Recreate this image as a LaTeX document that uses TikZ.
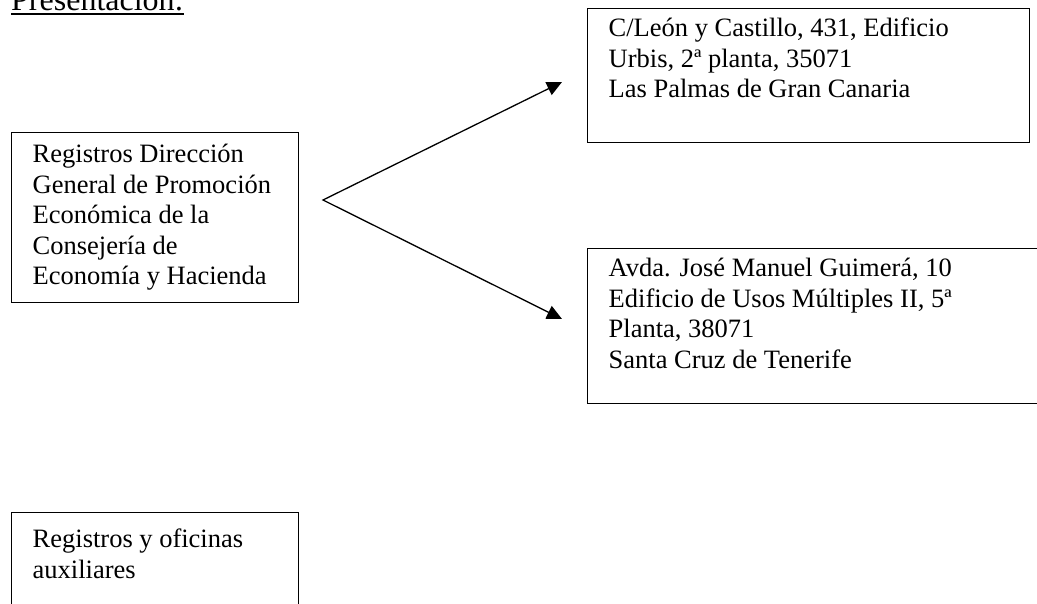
\documentclass[tikz,border=0pt]{standalone}
\usepackage{fontspec}
\setmainfont{Liberation Serif}
\usetikzlibrary{arrows.meta}
\newcommand\boxtxt[4]{\parbox[t][#2][t]{#1}{\raggedright\leftskip=21pt\relax\rule{0pt}{#3}#4}}
\tikzset{
  textbox/.style={draw, line width=1.4pt, inner sep=0pt, anchor=north west,
    font=\fontsize{26.5}{30.5}\selectfont},
  connector/.style={line width=1.3pt, {Triangle[length=15pt,width=14pt]}-{Triangle[length=15pt,width=14pt]}}
}
\begin{document}
\begin{tikzpicture}[x=1pt,y=-1pt]
\useasboundingbox (0,0) rectangle (1037,603);
\clip (0,0) rectangle (1037,603);
\node[anchor=base west, inner sep=0pt, font=\fontsize{32}{37}\selectfont] (title) at (11,10) {Presentación:};
\draw[line width=1.6pt] ([yshift=-4pt]title.base west) -- ([yshift=-4pt]title.base east);
\node[textbox] (reg) at (11,132) {\boxtxt{287pt}{170pt}{30pt}{Registros Dirección\\General de Promoción\\Económica de la\\Consejería de\\Economía y Hacienda}};
\node[textbox] (lp) at (587,8) {\boxtxt{442pt}{134pt}{28pt}{C/León y Castillo, 431, Edificio\\Urbis, 2ª planta, 35071\\Las Palmas de Gran Canaria}};
\node[textbox] (tf) at (587,248) {\boxtxt{465pt}{155pt}{28pt}{Avda. José Manuel Guimerá, 10\\Edificio de Usos Múltiples II, 5ª\\Planta, 38071\\Santa Cruz de Tenerife}};
\node[textbox] (aux) at (11,512) {\boxtxt{287pt}{130pt}{35pt}{Registros y oficinas\\auxiliares}};
\coordinate (apex) at (323,200);
\coordinate (t1) at (562,82);
\coordinate (t2) at (562,319);
\draw[connector] (t1) -- (apex) -- (t2);
\end{tikzpicture}
\end{document}
